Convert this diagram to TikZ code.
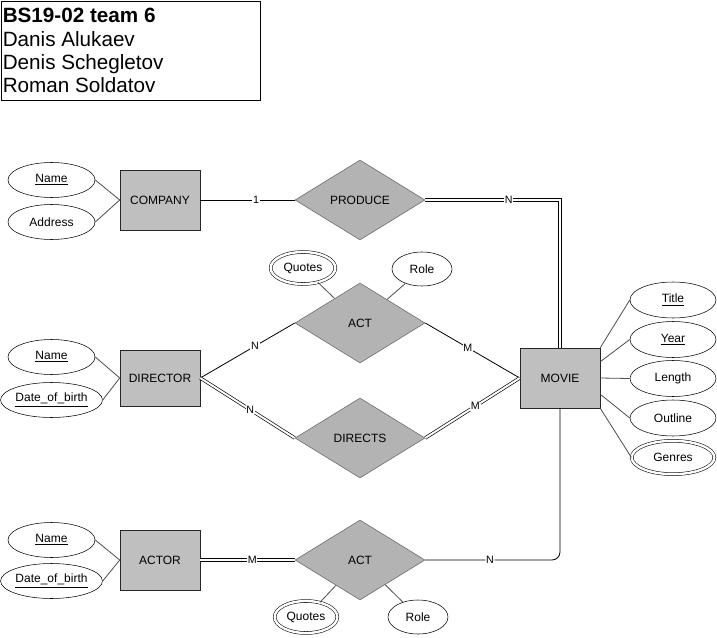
\documentclass[tikz,border=0pt]{standalone}
\usepackage{fontspec}
\setmainfont{Liberation Sans}
\usetikzlibrary{shapes.geometric}
\definecolor{entfill}{RGB}{191,191,191}
\definecolor{relfill}{RGB}{179,179,179}
\definecolor{reldraw}{RGB}{102,102,102}
\definecolor{attline}{RGB}{77,77,77}
\tikzset{
  every node/.style={font=\fontsize{9}{11}\selectfont},
  entity/.style={draw=black!85, fill=entfill, rectangle, minimum width=60pt, minimum height=45pt, inner sep=0pt},
  relation/.style={draw=reldraw, fill=relfill, diamond, aspect=1.625, minimum width=97.5pt, minimum height=60pt, inner sep=0pt},
  attr/.style={draw=black, fill=white, ellipse, minimum width=65.25pt, minimum height=26.25pt, inner sep=0pt},
  mattr/.style={attr, minimum width=64.5pt, minimum height=27pt},
  multattr/.style={draw=black, fill=white, ellipse, double, double distance=1.8pt, inner sep=0pt},
  attlink/.style={draw=attline, line width=0.6pt},
  rellink/.style={draw=black, line width=0.6pt},
  dbllink/.style={draw=black, double, double distance=1.5pt, line width=0.5pt},
  card/.style={fill=white, inner sep=0.6pt, font=\fontsize{8}{9}\selectfont},
  titletext/.style={anchor=base west, inner sep=0pt, font=\fontsize{15.5}{18}\selectfont}
}
\begin{document}
\begin{tikzpicture}[x=0.75pt,y=-0.75pt]
\useasboundingbox (0,0) rectangle (717,638);
% title box
\node[draw=black, line width=0.7pt, rectangle, minimum width=194.25pt, minimum height=74.25pt, inner sep=0pt] (titlebox) at (130.5,50.5) {};
\node[titletext, font=\fontsize{15.5}{18}\selectfont\bfseries] (t1) at (2.5,23) {BS19-02 team 6};
\node[titletext] (t2) at (2.5,46.5) {Danis Alukaev};
\node[titletext] (t3) at (2.5,69.5) {Denis Schegletov};
\node[titletext] (t4) at (2.5,93) {Roman Soldatov};

% entities
\node[entity] (company) at (160,200) {COMPANY};
\node[entity, minimum height=42pt] (director) at (160,378) {DIRECTOR};
\node[entity] (actor) at (160,560) {ACTOR};
\node[entity] (movie) at (560,378) {MOVIE};

% relationships
\node[relation] (produce) at (360,200) {PRODUCE};
\node[relation] (act1) at (360,323) {ACT};
\node[relation] (directs) at (360,438) {DIRECTS};
\node[relation] (act2) at (360,560) {ACT};

% attributes left
\node[attr] (cname) at (51.5,180) {\underline{Name}};
\node[attr] (caddr) at (51.5,222) {Address};
\node[attr] (dname) at (51.5,357) {\underline{Name}};
\node[attr] (ddob) at (51.5,400) {\underline{Date\_of\_birth}};
\node[attr] (aname) at (51.5,540) {\underline{Name}};
\node[attr] (adob) at (51.5,581) {\underline{Date\_of\_birth}};

% movie attributes
\node[mattr] (title) at (673,300) {\underline{Title}};
\node[mattr] (year) at (673,339.5) {\underline{Year}};
\node[mattr] (length) at (673,378.5) {Length};
\node[mattr] (outline) at (673,418) {Outline};
\node[mattr, double, double distance=1.8pt, minimum width=62pt, minimum height=25pt] (genres) at (673,457.5) {Genres};

% relationship attributes
\node[multattr, minimum width=48.5pt, minimum height=24pt] (quotes1) at (303,268) {Quotes};
\node[attr, minimum width=45pt, minimum height=25.5pt] (role1) at (422,269) {Role};
\node[multattr, minimum width=47pt, minimum height=24pt] (quotes2) at (306,617) {Quotes};
\node[attr, minimum width=45pt, minimum height=25.5pt] (role2) at (418,617) {Role};

% attribute links
\draw[attlink] (cname.east) -- (company.west);
\draw[attlink] (caddr.east) -- (company.west);
\draw[attlink] (dname.east) -- (director.west);
\draw[attlink] (ddob.east) -- (director.west);
\draw[attlink] (aname.east) -- (actor.west);
\draw[attlink] (adob.east) -- (actor.west);
\draw[attlink] (movie.north east) -- (title.west);
\draw[attlink] ([yshift=-10.5pt]movie.north east) -- (year.west);
\draw[attlink] (movie.east) -- (length.west);
\draw[attlink] ([yshift=10.5pt]movie.south east) -- (outline.west);
\draw[attlink] (movie.south east) -- (genres.west);
\draw[attlink] (quotes1) -- (act1);
\draw[attlink] (role1) -- (act1);
\draw[attlink] (quotes2) -- (act2);
\draw[attlink] (role2) -- (act2);

% relationship links
\draw[rellink] (company.east) -- node[card, pos=0.59] (c1) {1} (produce.west);
\draw[dbllink] (produce.east) -| node[card, pos=0.31] (c2) {N} (movie.north);
\draw[rellink] (director.east) -- node[card, pos=0.58] (c3) {N} (act1.west);
\draw[dbllink] (director.east) -- node[card, pos=0.53] (c4) {N} (directs.west);
\draw[rellink] (act1.east) -- node[card, pos=0.45] (c5) {M} (movie.west);
\draw[dbllink] (directs.east) -- node[card, pos=0.53] (c6) {M} (movie.west);
\draw[dbllink] (actor.east) -- node[card, pos=0.55] (c7) {M} (act2.west);
\draw[rellink, rounded corners=6pt] (act2.east) -| node[card, pos=0.24] (c8) {N} (movie.south);
\end{tikzpicture}
\end{document}
